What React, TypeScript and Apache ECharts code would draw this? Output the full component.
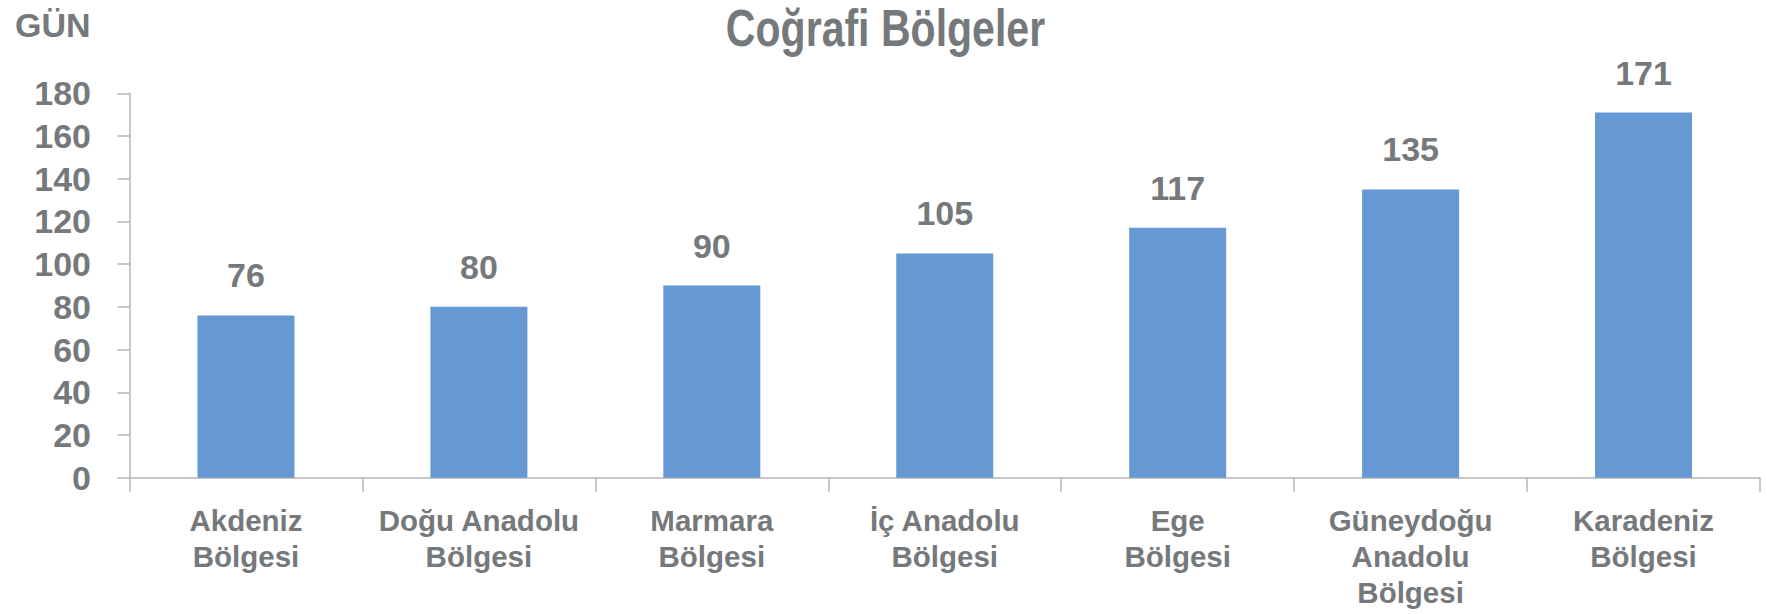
import React, { useEffect, useRef } from "react";
import * as echarts from "echarts";

const categories = [
  "Akdeniz\nBölgesi",
  "Doğu Anadolu\nBölgesi",
  "Marmara\nBölgesi",
  "İç Anadolu\nBölgesi",
  "Ege\nBölgesi",
  "Güneydoğu\nAnadolu\nBölgesi",
  "Karadeniz\nBölgesi",
];
const days = [76, 80, 90, 105, 117, 135, 171];
const titleText = "Coğrafi Bölgeler";
const unitText = "GÜN";

const GRAY = "#75797b";
const AXIS = "#b4b4b4";
const BAR = "#6699d3";
const FONT = "'Liberation Sans', Arial, sans-serif";

export default function App() {
  const ref = useRef<HTMLDivElement>(null);
  useEffect(() => {
    if (!ref.current) return;
    const chart = echarts.init(ref.current, null, { renderer: "svg" });
    chart.setOption({
      animation: false,
      backgroundColor: "#ffffff",
      grid: { left: 129.5, right: 7, top: 93.3, bottom: 136.3, containLabel: false },
      graphic: [
        {
          type: "text",
          x: 885.5,
          y: 28,
          scaleX: 0.805,
          style: {
            text: titleText,
            fontFamily: FONT,
            fontWeight: "bold",
            fontSize: 51,
            lineHeight: 51,
            fill: GRAY,
            textAlign: "center",
            textVerticalAlign: "middle",
          },
        },
        {
          type: "text",
          x: 15,
          y: 24.5,
          style: {
            text: unitText,
            fontFamily: FONT,
            fontWeight: "bold",
            fontSize: 34,
            fill: GRAY,
            textAlign: "left",
            textVerticalAlign: "middle",
          },
        },
      ],
      xAxis: {
        type: "category",
        data: categories,
        boundaryGap: true,
        axisLine: { show: true, lineStyle: { color: AXIS, width: 1.5 } },
        axisTick: { show: true, length: 14, alignWithLabel: false, lineStyle: { color: AXIS, width: 1.5 } },
        axisLabel: {
          interval: 0,
          margin: 25,
          color: GRAY,
          fontFamily: FONT,
          fontWeight: "bold",
          fontSize: 29.5,
          lineHeight: 36,
        },
        splitLine: { show: false },
      },
      yAxis: {
        type: "value",
        min: 0,
        max: 180,
        interval: 20,
        axisLine: { show: true, lineStyle: { color: AXIS, width: 1.5 } },
        axisTick: { show: true, length: 12, inside: false, lineStyle: { color: AXIS, width: 1.5 } },
        axisLabel: {
          margin: 38.5,
          color: GRAY,
          fontFamily: FONT,
          fontWeight: "bold",
          fontSize: 34,
        },
        splitLine: { show: false },
      },
      series: [
        {
          type: "bar",
          data: days,
          barWidth: 97,
          itemStyle: { color: BAR },
          label: {
            show: true,
            position: "top",
            distance: 23,
            color: GRAY,
            fontFamily: FONT,
            fontWeight: "bold",
            fontSize: 34,
          },
        },
      ],
    });
    return () => chart.dispose();
  }, []);
  return (
    <div
      ref={ref}
      style={{ position: "fixed", left: 0, top: 0, width: 1767, height: 614, background: "#fff" }}
    />
  );
}
